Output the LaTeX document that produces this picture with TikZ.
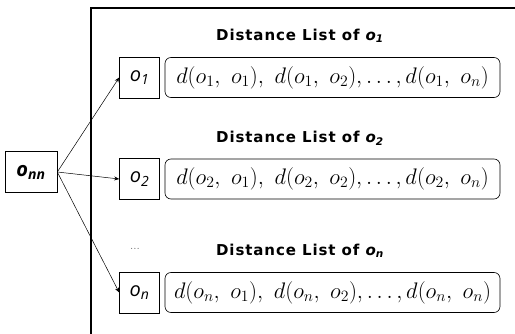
\RequirePackage{fix-cm}
\documentclass[tikz,border=0pt]{standalone}
\usepackage{fontspec}
\setsansfont{Open Sans}
\newfontfamily\titlefont[LetterSpace=6]{DejaVu Sans}
\usetikzlibrary{arrows.meta}
\tikzset{
  obox/.style={draw, line width=0.6pt, minimum width=40pt, minimum height=41pt, inner sep=0pt, font=\sffamily\itshape\fontsize{20}{20}\selectfont},
  listbox/.style={draw, rounded corners=6pt, line width=0.6pt, minimum width=335pt, minimum height=40pt, inner sep=0pt, font=\fontsize{22.5}{22.5}\selectfont},
  title/.style={font=\titlefont\bfseries\fontsize{15}{15}\selectfont},
  arr/.style={-{Stealth[length=5pt,width=4pt]}, line width=0.5pt}
}
\begin{document}
\begin{tikzpicture}[x=1pt,y=-1pt]
\useasboundingbox (0,0) rectangle (515,334);
\draw[line width=2.2pt] (91,340) -- (91,8) -- (520,8);
\node[obox, font=\sffamily\bfseries\itshape\fontsize{20}{20}\selectfont, minimum width=52pt] (onn) at (31,172) {o\textsubscript{nn}};
\node[obox] (o1) at (139.5,77.5) {o\textsubscript{1}};
\node[obox] (o2) at (139.5,179) {o\textsubscript{2}};
\node[obox] (on) at (139.5,292.5) {o\textsubscript{n}};
\node[listbox] (l1) at (332.5,77.5) {$d(o_1,\ o_1),\ d(o_1,\ o_2), \ldots, d(o_1,\ o_n)$};
\node[listbox] (l2) at (332.5,179) {$d(o_2,\ o_1),\ d(o_2,\ o_2), \ldots, d(o_2,\ o_n)$};
\node[listbox] (ln) at (332.5,292.5) {$d(o_n,\ o_1),\ d(o_n,\ o_2), \ldots, d(o_n,\ o_n)$};
\node[title] (t1) at (300,36) {Distance List of \textit{o\textsubscript{1}}};
\node[title] (t2) at (300,138) {Distance List of \textit{o\textsubscript{2}}};
\node[title] (tn) at (300,251) {Distance List of \textit{o\textsubscript{n}}};
\node[font=\fontsize{12}{12}\selectfont, text=black!60] (dots) at (135,249) {...};
\draw[arr] (onn.east) -- (o1.west);
\draw[arr] (onn.east) -- (o2.west);
\draw[arr] (onn.east) -- (on.west);
\end{tikzpicture}
\end{document}
